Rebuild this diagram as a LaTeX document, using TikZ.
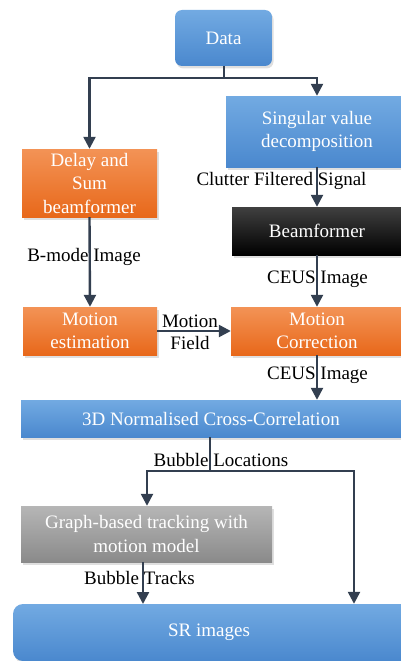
\documentclass[tikz,border=0pt]{standalone}
\usepackage{fontspec}
\setmainfont{Liberation Serif}
\usetikzlibrary{arrows.meta,shadows}
\definecolor{bluetop}{HTML}{72AAE2}
\definecolor{bluebot}{HTML}{4A88CE}
\definecolor{ortop}{HTML}{F39356}
\definecolor{orbot}{HTML}{E8681A}
\definecolor{graytop}{HTML}{B6B6B6}
\definecolor{graybot}{HTML}{8A8A8A}
\definecolor{blktop}{HTML}{404040}
\definecolor{blkbot}{HTML}{000000}
\definecolor{arrcol}{HTML}{333F50}
\tikzset{
  box/.style={rectangle, draw=none, text=white, align=center,
    font=\fontsize{19}{23.5}\selectfont, inner sep=0pt,
    drop shadow={shadow xshift=1.5pt, shadow yshift=-2.5pt, opacity=0.25}},
  bluebox/.style={box, top color=bluetop, bottom color=bluebot},
  orbox/.style={box, top color=ortop, bottom color=orbot},
  graybox/.style={box, top color=graytop, bottom color=graybot},
  blkbox/.style={box, top color=blktop, bottom color=blkbot},
  lbl/.style={font=\fontsize{19}{22}\selectfont, text=black, inner sep=0pt, align=center},
  conn/.style={draw=arrcol, line width=2.4pt},
  arr/.style={conn, -{Triangle[width=12pt,length=12pt]}},
}
\begin{document}
\begin{tikzpicture}[x=1pt,y=-1pt]
\useasboundingbox (0,0) rectangle (401,661);
% boxes
\node[bluebox, rounded corners=7pt, minimum width=97pt, minimum height=56pt] (data) at (223.5,38) {Data};
\node[bluebox, minimum width=182pt, minimum height=71pt] (svd) at (317,131.5) {Singular value\\decomposition};
\node[orbox, minimum width=135pt, minimum height=68pt] (delay) at (89.5,183) {Delay and\\Sum\\beamformer};
\node[blkbox, minimum width=170pt, minimum height=48pt] (bf) at (317,231) {Beamformer};
\node[orbox, minimum width=134pt, minimum height=48pt] (mest) at (90,331) {Motion\\estimation};
\node[orbox, minimum width=172pt, minimum height=48pt] (mcor) at (317,331) {Motion\\Correction};
\node[bluebox, minimum width=380pt, minimum height=37pt] (ncc) at (211,418.5) {3D Normalised Cross-Correlation};
\node[graybox, minimum width=251pt, minimum height=56pt] (grph) at (146.5,534) {Graph-based tracking with\\motion model};
\node[bluebox, rounded corners=10pt, minimum width=400pt, minimum height=57pt] (sr) at (213,632.5) {};
\node[text=white, font=\fontsize{19}{23.5}\selectfont, inner sep=0pt] (srtxt) at (209,632.5) {SR images};
% junctions
\coordinate (j1) at (224,78);
\coordinate (j2) at (210,471);
\coordinate (jl) at (147,471);
\coordinate (jr) at (354,471);
\coordinate (trk) at (143,604);
% connectors
\draw[conn] (data.south -| j1) -- (j1);
\draw[arr] (j1) -| (delay.north);
\draw[arr] (j1) -| (svd.north);
\draw[arr] (svd.south) -- (bf.north);
\draw[arr] (delay.south) -- (mest.north);
\draw[arr] (bf.south) -- (mcor.north);
\draw[arr] (mest.east) -- (mcor.west);
\draw[arr] (mcor.south) -- (ncc.north -| mcor.south);
\draw[conn] (ncc.south -| j2) -- (j2);
\draw[arr] (jl) -- (jr) -- (sr.north -| jr);
\draw[arr] (j2) -- (jl) -- (grph.north -| jl);
\draw[arr] (grph.south -| trk) -- (trk);
% labels
\node[lbl] (l1) at (281.5,181) {Clutter Filtered Signal};
\node[lbl] (l2) at (84,257) {B-mode Image};
\node[lbl] (l3) at (317.5,279) {CEUS Image};
\node[lbl] (l4) at (190,332) {Motion\\Field};
\node[lbl] (l5) at (317.5,375) {CEUS Image};
\node[lbl] (l6) at (221,460) {Bubble Locations};
\node[lbl] (l7) at (139.5,578) {Bubble Tracks};
\end{tikzpicture}
\end{document}
